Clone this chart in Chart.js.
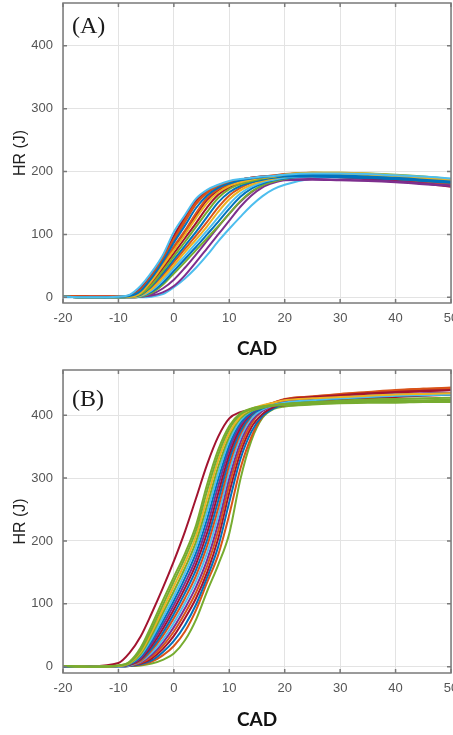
<!DOCTYPE html>
<html>
<head>
<meta charset="utf-8">
<script src="https://cdn.jsdelivr.net/npm/chart.js@4.4.1/dist/chart.umd.min.js"></script>
<style>
  html, body { margin: 0; padding: 0; background: #fff; overflow: hidden; }
  .panel { position: absolute; left: 0; width: 453px; }
  #panelA { top: 0; height: 366px; }
  #panelB { top: 366px; height: 369px; }
</style>
</head>
<body>
<div class="panel" id="panelA"><canvas id="chartA"></canvas></div>
<div class="panel" id="panelB"><canvas id="chartB"></canvas></div>
<script>
// crank angle (CAD) where the curves were read
const cad = [-20, -15, -10, -8, -6, -4, -2, 0, 2, 4, 6, 8, 10, 12, 14, 16, 18, 20, 25, 30, 35, 40, 45, 50];
const xTicks = [-20, -10, 0, 10, 20, 30, 40, 50];
const yTicks = [0, 100, 200, 300, 400];

// MATLAB default line colours
const blue = "#0072BD", orange = "#D95319", yellow = "#EDB120", purple = "#7E2F8E",
      green = "#77AC30", lightblue = "#4DBEEE", darkred = "#A2142F";

// (A) heat release per cycle, J
const a01 = [1, 0, 1, 4, 18, 40, 67, 104, 131, 157, 171, 179, 185, 188, 190, 192, 193, 195, 197, 197, 196, 194, 192, 189];
const a02 = [2, 1, 1, 3, 15, 37, 65, 98, 128, 154, 169, 178, 184, 187, 190, 192, 193, 194, 195, 194, 192, 189, 185, 180];
const a03 = [2, 1, 1, 2, 12, 34, 61, 93, 123, 150, 167, 177, 183, 187, 190, 192, 194, 196, 198, 197, 195, 191, 186, 181];
const a04 = [1, 0, 1, 2, 10, 31, 57, 87, 114, 142, 162, 174, 181, 186, 189, 191, 193, 194, 195, 194, 192, 190, 187, 184];
const a05 = [2, 1, 1, 2, 8, 28, 53, 81, 106, 134, 158, 172, 180, 185, 188, 190, 192, 193, 194, 193, 191, 188, 184, 179];
const a06 = [1, 0, 1, 1, 7, 26, 50, 75, 100, 126, 150, 167, 177, 183, 187, 190, 192, 195, 198, 198, 197, 194, 191, 187];
const a07 = [2, 1, 1, 1, 6, 23, 46, 70, 94, 118, 143, 163, 175, 182, 186, 189, 191, 192, 192, 191, 189, 186, 182, 177];
const a08 = [1, 0, 0, 1, 5, 20, 42, 65, 88, 112, 136, 158, 172, 180, 185, 189, 192, 195, 198, 198, 197, 195, 192, 188];
const a09 = [1, 0, 0, 1, 4, 18, 38, 60, 82, 104, 128, 151, 167, 177, 183, 187, 190, 192, 193, 192, 190, 188, 185, 182];
const a10 = [2, 1, 1, 1, 3, 15, 34, 56, 77, 98, 120, 143, 162, 174, 182, 187, 190, 193, 196, 195, 193, 190, 186, 181];
const a11 = [1, 0, 0, 0, 3, 13, 31, 51, 72, 92, 113, 136, 156, 170, 179, 185, 189, 192, 196, 196, 195, 192, 189, 185];
const a12 = [1, 0, 0, 0, 2, 11, 27, 47, 66, 86, 106, 127, 148, 165, 176, 183, 187, 190, 193, 193, 192, 191, 190, 188];
const a13 = [1, 0, 0, 0, 2, 9, 23, 42, 61, 80, 100, 120, 141, 160, 173, 181, 186, 189, 192, 191, 190, 188, 186, 183];
const a14 = [1, 0, 0, 0, 1, 7, 20, 38, 56, 75, 94, 113, 133, 153, 168, 178, 184, 188, 195, 196, 195, 193, 190, 187];
const a15 = [1, 0, 0, 0, 1, 3, 8, 18, 35, 56, 78, 100, 122, 144, 162, 175, 182, 186, 187, 186, 185, 183, 180, 177];
const a16 = [1, 0, 0, 0, 1, 5, 14, 28, 47, 68, 90, 112, 133, 152, 167, 178, 184, 187, 188, 187, 186, 184, 181, 178];
const a17 = [0, 0, 0, 0, 0, 1, 5, 16, 30, 47, 67, 89, 109, 128, 146, 161, 172, 179, 189, 191, 191, 190, 189, 187];
const a18 = [2, 1, 1, 3, 14, 35, 62, 95, 125, 152, 168, 177, 183, 187, 190, 192, 193, 194, 195, 194, 191, 188, 184, 178];
const a19 = [2, 1, 1, 2, 11, 32, 59, 90, 120, 148, 166, 176, 182, 186, 189, 191, 193, 195, 196, 195, 193, 190, 186, 180];
const a20 = [2, 1, 1, 2, 7, 25, 49, 77, 102, 130, 155, 170, 179, 184, 188, 190, 192, 193, 193, 191, 188, 185, 181, 176];
const cyclesA = [a01, a04, a06, a08, a09, a11, a12, a13, a14, a15, a16, a17, a10, a05, a03, a07, a20, a19, a02, a18];
const coloursA = [lightblue, blue, yellow, green, blue, yellow, lightblue, blue, green, purple, purple, lightblue,
                  orange, orange, orange, darkred, darkred, orange, darkred, darkred];

// (B) heat release per cycle, J
const b01 = [1, 0, 2, 8, 30, 66, 105, 143, 180, 225, 290, 345, 383, 403, 411, 414, 416, 418, 420, 422, 423, 424, 424, 425];
const b02 = [1, 0, 2, 7, 26, 60, 98, 136, 173, 217, 280, 337, 378, 401, 410, 414, 416, 418, 421, 423, 425, 426, 427, 428];
const b03 = [1, 0, 1, 6, 23, 55, 91, 128, 165, 208, 268, 328, 372, 398, 410, 416, 420, 424, 427, 429, 431, 433, 434, 435];
const b04 = [1, 0, 1, 5, 20, 50, 85, 120, 157, 199, 257, 318, 366, 395, 407, 412, 415, 416, 418, 420, 421, 422, 422, 423];
const b05 = [1, 0, 1, 5, 18, 45, 78, 112, 149, 190, 246, 308, 360, 392, 407, 414, 417, 420, 424, 427, 429, 431, 432, 433];
const b06 = [0, 0, 1, 4, 16, 41, 72, 105, 141, 181, 235, 298, 353, 388, 405, 413, 417, 420, 424, 427, 430, 432, 433, 434];
const b07 = [0, 0, 1, 4, 14, 37, 66, 98, 133, 172, 224, 287, 346, 384, 404, 413, 417, 421, 425, 428, 431, 433, 434, 435];
const b08 = [1, 0, 1, 3, 12, 33, 60, 91, 125, 163, 213, 276, 338, 380, 403, 414, 420, 425, 429, 432, 435, 437, 439, 440];
const b09 = [0, 0, 1, 3, 11, 29, 54, 84, 117, 154, 202, 264, 330, 375, 400, 411, 417, 421, 425, 428, 430, 432, 433, 434];
const b10 = [0, 0, 1, 3, 9, 26, 49, 77, 109, 145, 192, 252, 321, 370, 399, 413, 420, 426, 430, 433, 436, 438, 440, 442];
const b11 = [0, 0, 0, 2, 8, 22, 43, 70, 101, 136, 181, 240, 311, 364, 395, 409, 416, 421, 425, 428, 431, 433, 434, 435];
const b12 = [0, 0, 0, 2, 7, 19, 38, 63, 93, 127, 170, 228, 300, 357, 391, 407, 415, 420, 425, 428, 431, 433, 435, 436];
const b13 = [0, 0, 0, 2, 6, 16, 33, 56, 85, 118, 160, 216, 289, 349, 387, 408, 418, 425, 430, 434, 437, 440, 442, 443];
const b14 = [1, 0, 0, 2, 5, 13, 28, 49, 77, 109, 150, 204, 277, 340, 381, 402, 413, 419, 426, 430, 433, 436, 438, 440];
const b15 = [0, 0, 0, 1, 4, 10, 23, 41, 66, 99, 142, 191, 262, 330, 374, 399, 411, 418, 424, 427, 429, 431, 432, 433];
const b16 = [0, 0, 0, 1, 3, 8, 18, 33, 56, 90, 134, 178, 242, 315, 366, 398, 414, 422, 428, 432, 436, 439, 442, 444];
const b17 = [1, 1, 6, 22, 48, 85, 125, 168, 215, 268, 322, 366, 395, 405, 409, 412, 414, 416, 420, 424, 427, 429, 431, 433];
const b18 = [0, 0, 0, 1, 2, 5, 11, 21, 42, 75, 120, 162, 212, 298, 360, 396, 410, 414, 417, 419, 420, 420, 421, 421];
const cyclesB = [b01, b02, b03, b04, b05, b06, b07, b08, b09, b10, b11, b12, b13, b14, b15, b16, b17, b18];
const coloursB = [green, green, yellow, green, lightblue, blue, purple, darkred, blue, orange, lightblue, purple,
                  orange, darkred, blue, orange, darkred, green];

// box round the axes, inward ticks and the panel letter
const boxPlugin = {
  id: "box",
  afterDatasetsDraw(chart, args, opts) {
    const { ctx, chartArea: a, scales } = chart;
    ctx.save();
    ctx.strokeStyle = "#7a7a7a";
    ctx.lineWidth = 1.5;
    ctx.strokeRect(a.left, a.top, a.right - a.left, a.bottom - a.top);
    ctx.beginPath();
    scales.x.ticks.forEach(t => {
      const px = scales.x.getPixelForValue(t.value);
      ctx.moveTo(px, a.bottom); ctx.lineTo(px, a.bottom - 4);
      ctx.moveTo(px, a.top); ctx.lineTo(px, a.top + 4);
    });
    scales.y.ticks.forEach(t => {
      const py = scales.y.getPixelForValue(t.value);
      ctx.moveTo(a.left, py); ctx.lineTo(a.left + 4, py);
      ctx.moveTo(a.right, py); ctx.lineTo(a.right - 4, py);
    });
    ctx.stroke();
    ctx.fillStyle = "#1a1a1a";
    ctx.font = '24px "Liberation Serif", serif';
    ctx.fillText(opts.label, a.left + opts.dx, a.top + opts.dy);
    ctx.restore();
  }
};

function makeChart(id, cycles, colours, cfg) {
  const datasets = cycles.map((hr, i) => ({
    data: cad.map((x, j) => ({ x: x, y: hr[j] })),
    borderColor: colours[i],
    borderWidth: 2,
    pointRadius: 0,
    cubicInterpolationMode: "monotone",
  }));
  return new Chart(document.getElementById(id), {
    type: "line",
    data: { datasets: datasets },
    plugins: [boxPlugin],
    options: {
      responsive: true,
      maintainAspectRatio: false,
      animation: false,
      events: [],
      layout: { padding: { top: cfg.top, right: 2, left: 0, bottom: 0 } },
      plugins: {
        legend: { display: false },
        tooltip: { enabled: false },
        box: { label: cfg.label, dx: 9, dy: cfg.labelY },
      },
      scales: {
        x: {
          type: "linear",
          min: -20,
          max: 50,
          afterBuildTicks: s => { s.ticks = xTicks.map(v => ({ value: v })); },
          afterFit: s => { s.height = cfg.xHeight; s.paddingLeft = 0; s.paddingRight = 0; },
          grid: { color: "#e3e3e3", drawTicks: false },
          border: { display: false },
          ticks: { padding: 8, color: "#555", font: { family: "Liberation Sans", size: 13 }, maxRotation: 0 },
          title: { display: true, text: "CAD", color: "#111", font: { family: "Lato", size: 19, weight: "bold" },
                   padding: { top: 0, bottom: cfg.titlePad } },
        },
        y: {
          min: cfg.ymin,
          max: cfg.ymax,
          afterBuildTicks: s => { s.ticks = yTicks.map(v => ({ value: v })); },
          afterFit: s => { s.width = 63; s.paddingTop = 0; s.paddingBottom = 0; },
          grid: { color: "#e3e3e3", drawTicks: false },
          border: { display: false },
          ticks: { padding: 10, color: "#555", font: { family: "Liberation Sans", size: 13 } },
          title: { display: true, text: "HR (J)", color: "#222", font: { family: "Liberation Sans", size: 16 },
                   padding: { top: 11, bottom: 0 } },
        },
      },
    },
  });
}

makeChart("chartA", cyclesA, coloursA, { label: "(A)", top: 3, xHeight: 63, ymin: -9, ymax: 468, labelY: 30, titlePad: 6 });
makeChart("chartB", cyclesB, coloursB, { label: "(B)", top: 4, xHeight: 62, ymin: -10, ymax: 472, labelY: 36, titlePad: 4 });
</script>
</body>
</html>
